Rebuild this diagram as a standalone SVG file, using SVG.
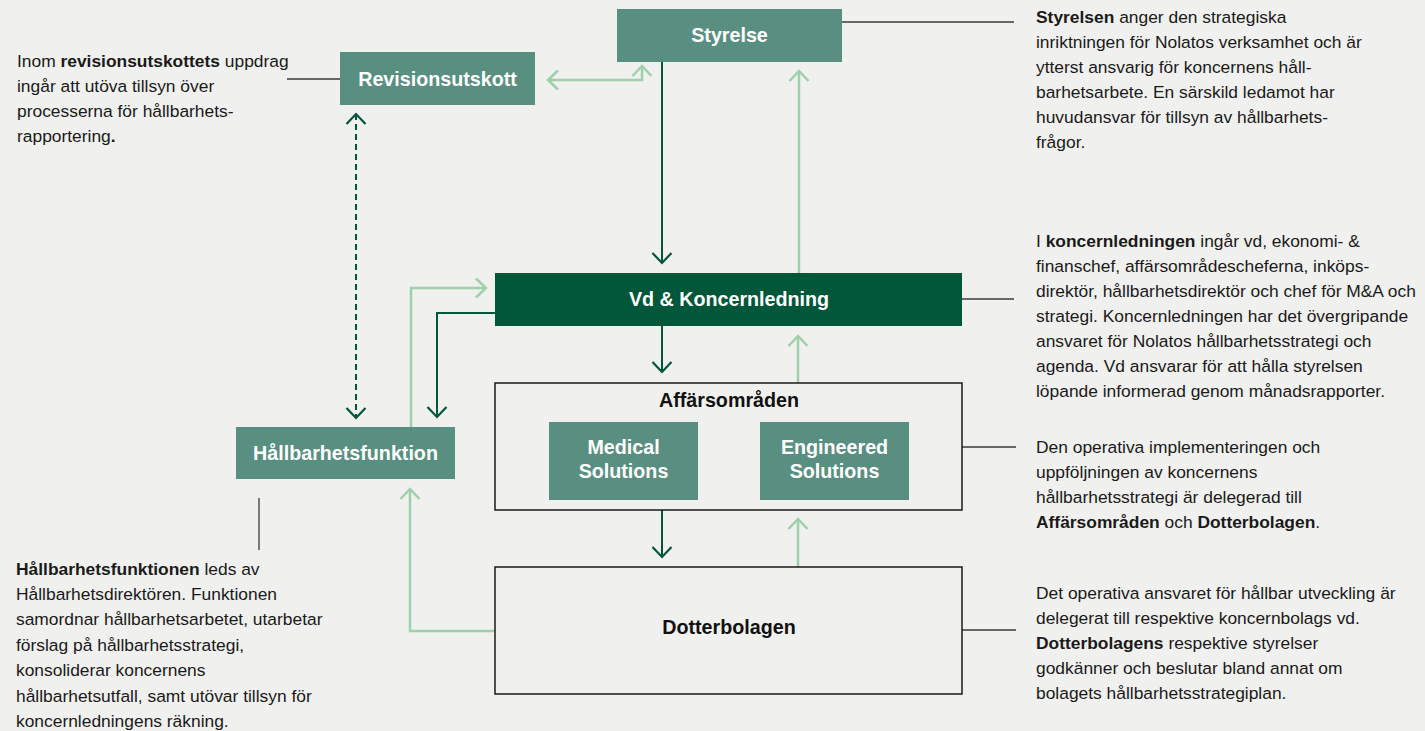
<svg xmlns="http://www.w3.org/2000/svg" width="1425" height="731" viewBox="0 0 1425 731">
<style>
.bg{fill:#f0f0ee}
.box{fill:#588f80}
.dark{fill:#00573a}
.frame{fill:#f0f0ee;stroke:#1a1a1a;stroke-width:1.5}
.lbl{font-family:"Liberation Sans",Arial,sans-serif;font-weight:bold;font-size:19.7px;fill:#ffffff;text-anchor:middle}
.lblk{font-family:"Liberation Sans",Arial,sans-serif;font-weight:bold;font-size:19.7px;fill:#111111;text-anchor:middle}
.body{font-family:"Liberation Sans",Arial,sans-serif;font-size:17.4px;fill:#1a1a1a}
.b{font-weight:bold}
.lead{stroke:#3a3a3a;stroke-width:1.3;fill:none}
.cd{stroke:#00573a;stroke-width:2;fill:none}
.cl{stroke:#9dd0ab;stroke-width:2.5;fill:none}
</style>
<defs>
<marker id="ad" markerUnits="userSpaceOnUse" markerWidth="24" markerHeight="24" viewBox="-12 -12 24 24" refX="0" refY="0" orient="auto-start-reverse">
<path d="M-10,-9.5 L0,0 L-10,9.5" fill="none" stroke="#00573a" stroke-width="2.2"/>
</marker>
<marker id="al" markerUnits="userSpaceOnUse" markerWidth="24" markerHeight="24" viewBox="-12 -12 24 24" refX="0" refY="0" orient="auto-start-reverse">
<path d="M-10,-9.5 L0,0 L-10,9.5" fill="none" stroke="#9dd0ab" stroke-width="2.5"/>
</marker>
</defs>
<rect class="bg" x="0" y="0" width="1425" height="731"/>

<g id="connectors">
<path class="cd" d="M662,62 L662,263" marker-end="url(#ad)"/>
<path class="cd" d="M662,326 L662,372" marker-end="url(#ad)"/>
<path class="cd" d="M662,510 L662,557" marker-end="url(#ad)"/>
<path class="cd" d="M495,313 L437,313 L437,417" marker-end="url(#ad)"/>
<path class="cd" d="M356,114 L356,418" stroke-dasharray="6,4" marker-start="url(#ad)" marker-end="url(#ad)"/>
<path class="cl" d="M799,273 L799,71" marker-end="url(#al)"/>
<path class="cl" d="M798,383 L798,336" marker-end="url(#al)"/>
<path class="cl" d="M798,567 L798,519" marker-end="url(#al)"/>
<path class="cl" d="M642,66 L642,80 L548,80" marker-start="url(#al)" marker-end="url(#al)"/>
<path class="cl" d="M495,631 L410,631 L410,489" marker-end="url(#al)"/>
<path class="cl" d="M411,427 L411,288 L486,288" marker-end="url(#al)"/>
<path class="lead" d="M842,22 L1014,22"/>
<path class="lead" d="M962,299 L1014,299"/>
<path class="lead" d="M962,447 L1016,447"/>
<path class="lead" d="M962,630 L1016,630"/>
<path class="lead" d="M287,79 L340,79"/>
<path class="lead" d="M259,498 L259,550"/>
</g>

<g id="styrelse">
<rect class="box" x="617" y="9" width="225" height="53"/>
<text class="lbl" x="729.5" y="42">Styrelse</text>
</g>

<g id="revisionsutskott">
<rect class="box" x="340" y="52" width="195" height="53"/>
<text class="lbl" x="437.5" y="86">Revisionsutskott</text>
</g>

<g id="vd">
<rect class="dark" x="495" y="273" width="467" height="53"/>
<text class="lbl" x="729" y="306">Vd &amp; Koncernledning</text>
</g>

<g id="affarsomraden">
<rect class="frame" x="495" y="383" width="467" height="127"/>
<text class="lblk" x="729" y="407">Affärsområden</text>
</g>

<g id="medical">
<rect class="box" x="549" y="422" width="149" height="78"/>
<text class="lbl" x="623.5" y="454">Medical</text>
<text class="lbl" x="623.5" y="478">Solutions</text>
</g>

<g id="engineered">
<rect class="box" x="760" y="422" width="149" height="78"/>
<text class="lbl" x="834.5" y="454">Engineered</text>
<text class="lbl" x="834.5" y="478">Solutions</text>
</g>

<g id="hallbarhetsfunktion">
<rect class="box" x="236" y="427" width="219" height="52"/>
<text class="lbl" x="345.5" y="460">Hållbarhetsfunktion</text>
</g>

<g id="dotterbolagen">
<rect class="frame" x="495" y="567" width="467" height="127"/>
<text class="lblk" x="729" y="634">Dotterbolagen</text>
</g>

<g id="text-revision">
<text class="body" x="17" y="66.5"><tspan>Inom </tspan><tspan class="b">revisionsutskottets</tspan><tspan> uppdrag</tspan></text>
<text class="body" x="17" y="91.5">ingår att utöva tillsyn över</text>
<text class="body" x="17" y="116.5">processerna för hållbarhets-</text>
<text class="body" x="17" y="141.5">rapportering<tspan class="b">.</tspan></text>
</g>

<g id="text-styrelse">
<text class="body" x="1036" y="22.5"><tspan class="b">Styrelsen</tspan> anger den strategiska</text>
<text class="body" x="1036" y="47.5">inriktningen för Nolatos verksamhet och är</text>
<text class="body" x="1036" y="72.5">ytterst ansvarig för koncernens håll-</text>
<text class="body" x="1036" y="97.5">barhetsarbete. En särskild ledamot har</text>
<text class="body" x="1036" y="122.5">huvudansvar för tillsyn av hållbarhets-</text>
<text class="body" x="1036" y="147.5">frågor.</text>
</g>

<g id="text-koncern">
<text class="body" x="1036" y="246.5">I <tspan class="b">koncernledningen</tspan> ingår vd, ekonomi- &amp;</text>
<text class="body" x="1036" y="271.5">finanschef, affärsområdescheferna, inköps-</text>
<text class="body" x="1036" y="296.5">direktör, hållbarhetsdirektör och chef för M&amp;A och</text>
<text class="body" x="1036" y="321.5">strategi. Koncernledningen har det övergripande</text>
<text class="body" x="1036" y="346.5">ansvaret för Nolatos hållbarhetsstrategi och</text>
<text class="body" x="1036" y="371.5">agenda. Vd ansvarar för att hålla styrelsen</text>
<text class="body" x="1036" y="396.5">löpande informerad genom månadsrapporter.</text>
</g>

<g id="text-affars">
<text class="body" x="1036" y="452.5">Den operativa implementeringen och</text>
<text class="body" x="1036" y="477.5">uppföljningen av koncernens</text>
<text class="body" x="1036" y="502.5">hållbarhetsstrategi är delegerad till</text>
<text class="body" x="1036" y="527.5"><tspan class="b">Affärsområden</tspan> och <tspan class="b">Dotterbolagen</tspan>.</text>
</g>

<g id="text-dotter">
<text class="body" x="1036" y="598.5">Det operativa ansvaret för hållbar utveckling är</text>
<text class="body" x="1036" y="623.5">delegerat till respektive koncernbolags vd.</text>
<text class="body" x="1036" y="648.5"><tspan class="b">Dotterbolagens</tspan> respektive styrelser</text>
<text class="body" x="1036" y="673.5">godkänner och beslutar bland annat om</text>
<text class="body" x="1036" y="698.5">bolagets hållbarhetsstrategiplan.</text>
</g>

<g id="text-hallbarhet">
<text class="body" x="16" y="574.5"><tspan class="b">Hållbarhetsfunktionen</tspan> leds av</text>
<text class="body" x="16" y="599.9">Hållbarhetsdirektören. Funktionen</text>
<text class="body" x="16" y="625.3">samordnar hållbarhetsarbetet, utarbetar</text>
<text class="body" x="16" y="650.7">förslag på hållbarhetsstrategi,</text>
<text class="body" x="16" y="676.1">konsoliderar koncernens</text>
<text class="body" x="16" y="701.5">hållbarhetsutfall, samt utövar tillsyn för</text>
<text class="body" x="16" y="726.9">koncernledningens räkning.</text>
</g>
</svg>
